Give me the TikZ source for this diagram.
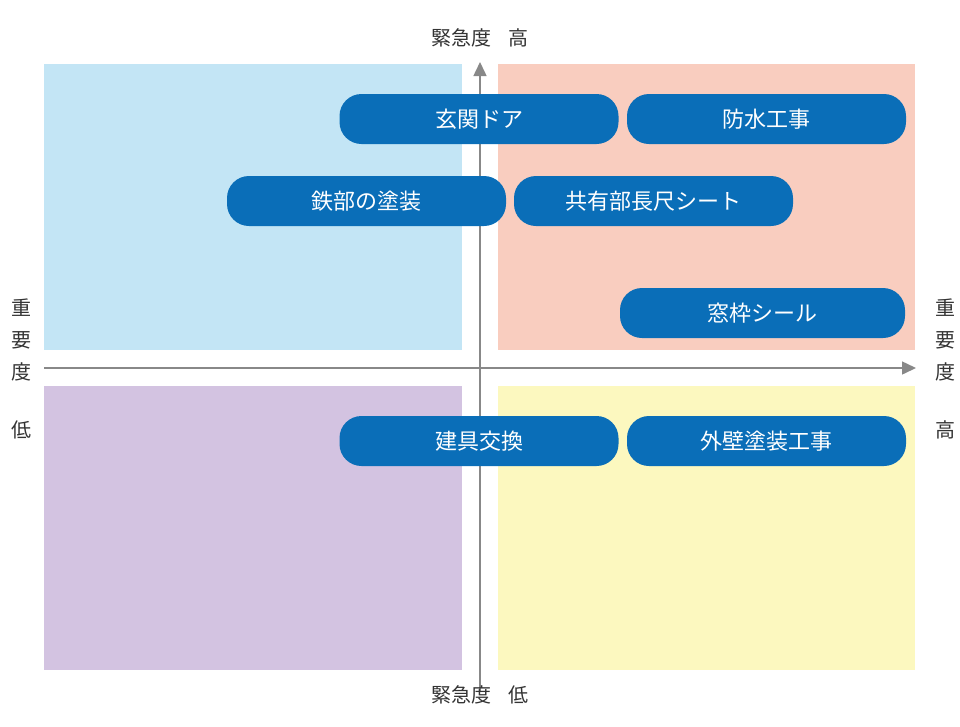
\documentclass[tikz,border=0pt]{standalone}
\usepackage{fontspec}
\newfontfamily\cjk{Noto Sans CJK JP}
\usetikzlibrary{arrows.meta}
\definecolor{qblue}{HTML}{C3E5F5}
\definecolor{qred}{HTML}{F9CDBF}
\definecolor{qpurple}{HTML}{D3C3E1}
\definecolor{qyellow}{HTML}{FCF8BF}
\definecolor{pill}{HTML}{0A6EB8}
\definecolor{axis}{HTML}{888888}
\definecolor{txt}{HTML}{333333}
\tikzset{
  pillbox/.style={fill=pill, rounded corners=22pt, text=white, font=\cjk\fontsize{22}{24}\selectfont, minimum width=279pt, minimum height=50pt, inner sep=0pt},
  lab/.style={text=txt, font=\cjk\fontsize{20}{22}\selectfont, inner sep=0pt},
}
\begin{document}
\begin{tikzpicture}[x=1pt,y=-1pt]
\useasboundingbox (0,0) rectangle (960,726);
\fill[qblue] (44,64) rectangle (462,350);
\fill[qred] (498,64) rectangle (915,350);
\fill[qpurple] (44,386) rectangle (462,670);
\fill[qyellow] (498,386) rectangle (915,670);
\coordinate (vb) at (480,692);
\coordinate (vt) at (480,62);
\coordinate (hl) at (44,368);
\coordinate (hr) at (916,368);
\draw[axis, line width=1.5pt, -{Triangle[length=14pt,width=13pt]}] (vb) -- (vt);
\draw[axis, line width=1.5pt, -{Triangle[length=14pt,width=13pt]}] (hl) -- (hr);
\node[pillbox] (a) at (479,119) {玄関ドア};
\node[pillbox] (b) at (766.5,119) {防水工事};
\node[pillbox] (c) at (366.5,201) {鉄部の塗装};
\node[pillbox] (d) at (653.5,201) {共有部長尺シート};
\node[pillbox, minimum width=285pt] (e) at (762.5,313) {窓枠シール};
\node[pillbox] (f) at (479,441) {建具交換};
\node[pillbox] (g) at (766.5,441) {外壁塗装工事};
\node[lab] (t1) at (480,38) {緊急度\hspace{0.9em}高};
\node[lab] (t2) at (480,695) {緊急度\hspace{0.9em}低};
\node[lab, align=center, font=\cjk\fontsize{20}{32}\selectfont] (l1) at (22,340) {重\\要\\度};
\node[lab] (l2) at (22,430) {低};
\node[lab, align=center, font=\cjk\fontsize{20}{32}\selectfont] (r1) at (945,340) {重\\要\\度};
\node[lab] (r2) at (945,430) {高};
\end{tikzpicture}
\end{document}
